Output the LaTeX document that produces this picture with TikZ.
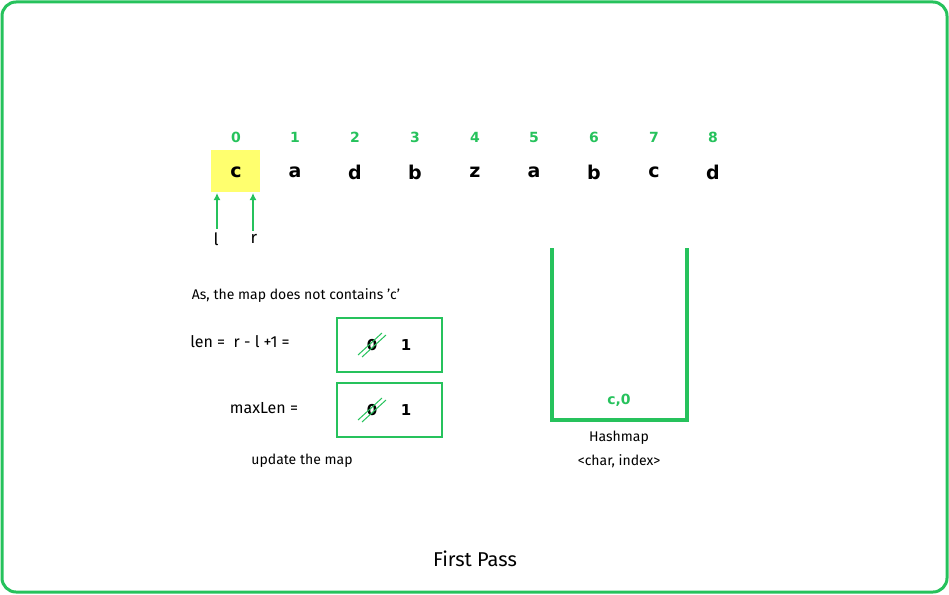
\documentclass[tikz,border=0pt]{standalone}
\usepackage{fontspec}
\usetikzlibrary{arrows.meta,calc}
\setmainfont{Fira Sans}
\newfontfamily\vb{DejaVu Sans}
\definecolor{gg}{RGB}{38,194,92}
\definecolor{yl}{RGB}{255,255,110}
\begin{document}
\begin{tikzpicture}[x=1pt,y=-1pt,
  lt/.style={font=\vb\bfseries\fontsize{19}{19}\selectfont},
  ix/.style={font=\vb\bfseries\fontsize{14}{14}\selectfont,text=gg},
  tx/.style={font=\fontsize{14}{14}\selectfont},
  gbox/.style={draw=gg,line width=2.5pt},
  arr/.style={draw=gg,line width=1.8pt,-{Latex[length=7pt,width=7pt]}}]
\useasboundingbox (0,0) rectangle (949,594);
\draw[gg,line width=3pt,rounded corners=14pt] (2,2) rectangle (947,592);
\fill[yl] (211,150) rectangle (260,192);
\foreach \x/\c [count=\i from 0] in {236/c,295/a,355/d,415/b,475/z,534/a,594/b,654/c,713/d}{
  \node[ix] (i\i) at (\x,137) {\i};
  \node[lt] (c\i) at (\x,172) {\c};
}
\node[tx,font=\fontsize{17}{17}\selectfont] (l) at (216,239) {l};
\node[tx,font=\fontsize{17}{17}\selectfont] (r) at (254,239) {r};
\coordinate (la) at (217,193); \coordinate (ra) at (253,193);
\draw[arr] (l.north -| la) -- (la);
\draw[arr] (r.north -| ra) -- (ra);
\node[tx] (t1) at (296,296) {As, the map does not contains 'c'};
\node[tx,font=\fontsize{16}{16}\selectfont] (t2) at (240,342) {len =\ \ r - l +1 =};
\node[tx,font=\fontsize{16}{16}\selectfont] (t3) at (264,408) {maxLen =};
\node[tx] (t4) at (302,461) {update the map};
\foreach \n/\y in {b1/345,b2/410}{
  \node[gbox,minimum width=105pt,minimum height=54pt] (\n) at (389.5,\y) {};
  \node[font=\vb\bfseries\fontsize{15}{15}\selectfont] (\n z) at (372,\y) {0};
  \node[font=\vb\bfseries\fontsize{15}{15}\selectfont] (\n o) at (406,\y) {1};
  \draw[gg,line width=1pt] ($(\n z)+(-14,10)$) -- ($(\n z)+(10,-12)$);
  \draw[gg,line width=1pt] ($(\n z)+(-10,12)$) -- ($(\n z)+(14,-10)$);
}
\draw[gg,line width=4pt] (552,248) -- (552,420) -- (687,420) -- (687,248);
\node[ix] (h0) at (619,400) {c,0};
\node[tx] (h1) at (619,438) {Hashmap};
\node[tx] (h2) at (619,461) {<char, index>};
\node[font=\fontsize{20}{20}\selectfont] (fp) at (475,559) {First Pass};
\end{tikzpicture}
\end{document}
